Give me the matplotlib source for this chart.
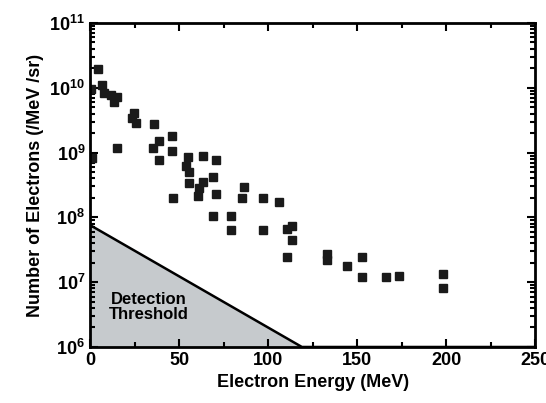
import numpy as np
import matplotlib
matplotlib.use("Agg")
import matplotlib.pyplot as plt
from matplotlib.ticker import MultipleLocator, LogLocator, NullFormatter

plt.rcParams["font.family"] = ["Liberation Sans", "DejaVu Sans"]
plt.rcParams["font.weight"] = "bold"
plt.rcParams["mathtext.fontset"] = "custom"
plt.rcParams["mathtext.bf"] = "Liberation Sans:bold"
plt.rcParams["mathtext.rm"] = "Liberation Sans:bold"

# measured electron spectra (energy in MeV, number /MeV /sr)
energy = [4.5, 6.7, 7.9, 11.8, 15.2, 13.5, 24.7, 23.6, 25.8, 15.2,
          36.0, 46.0, 38.8, 35.4, 46.0, 38.8, 55.0, 63.5, 70.8, 54.0,
          55.6, 69.0, 55.6, 63.5, 61.2, 60.7, 70.8, 46.6, 86.5, 85.4,
          97.2, 106.2, 69.1, 79.2, 79.2, 97.2, 110.7, 113.5, 113.5, 110.7,
          133.0, 133.0, 144.4, 152.8, 152.8, 166.3, 173.6, 198.3, 198.3,
          0.8, 0.6]
electrons = [1.95e10, 1.1e10, 8.3e9, 7.7e9, 7.2e9, 6.0e9, 4.1e9, 3.4e9, 2.9e9, 1.18e9,
             2.75e9, 1.8e9, 1.5e9, 1.18e9, 1.05e9, 7.7e8, 8.5e8, 8.9e8, 7.7e8, 6.2e8,
             5.0e8, 4.2e8, 3.4e8, 3.5e8, 2.8e8, 2.1e8, 2.3e8, 2.0e8, 2.95e8, 2.0e8,
             2.0e8, 1.73e8, 1.05e8, 1.05e8, 6.4e7, 6.4e7, 6.6e7, 7.4e7, 4.5e7, 2.45e7,
             2.7e7, 2.2e7, 1.78e7, 2.45e7, 1.2e7, 1.2e7, 1.25e7, 1.34e7, 8.1e6,
             8.3e8, 9.5e9]

# detection threshold
thresh_e = [0, 119, 250]
thresh_n = [7.6e7, 1e6, 1e6]

ytick_vals = [1e6, 1e7, 1e8, 1e9, 1e10, 1e11]
ytick_labels = [r"$\mathbf{10^{6}}$", r"$\mathbf{10^{7}}$", r"$\mathbf{10^{8}}$",
                r"$\mathbf{10^{9}}$", r"$\mathbf{10^{10}}$", r"$\mathbf{10^{11}}$"]

fig = plt.figure(figsize=(5.46, 4.03), dpi=100)
ax = fig.add_axes([0.165, 0.139, 0.815, 0.804])

ax.fill_between(thresh_e, 1e6, thresh_n, color="#c6cacd", lw=0)
ax.plot(thresh_e, thresh_n, color="black", lw=1.8)
ax.plot(energy, electrons, "s", color="#1a1a1a", ms=6.3, clip_on=True)

ax.text(33, 4.2e6, "Detection\nThreshold", ha="center", va="center",
        fontsize=12, fontweight="bold", linespacing=1.0)

ax.set_yscale("log")
ax.set_xlim(0, 250)
ax.set_ylim(1e6, 1e11)
ax.set_yticks(ytick_vals)
ax.set_yticklabels(ytick_labels)
ax.yaxis.set_minor_locator(LogLocator(base=10, subs=np.arange(2, 10), numticks=20))
ax.yaxis.set_minor_formatter(NullFormatter())
ax.xaxis.set_major_locator(MultipleLocator(50))
ax.xaxis.set_minor_locator(MultipleLocator(25))

ax.tick_params(which="both", direction="in", top=True, right=True, width=1.5)
ax.tick_params(which="major", length=6, labelsize=13)
ax.tick_params(which="minor", length=3.5)
for lab in ax.get_xticklabels():
    lab.set_fontweight("bold")
for sp in ax.spines.values():
    sp.set_linewidth(2)

ax.set_xlabel("Electron Energy (MeV)", fontsize=13, fontweight="bold")
ax.set_ylabel("Number of Electrons (/MeV /sr)", fontsize=13, fontweight="bold")

fig.savefig("out.png", dpi=100)
